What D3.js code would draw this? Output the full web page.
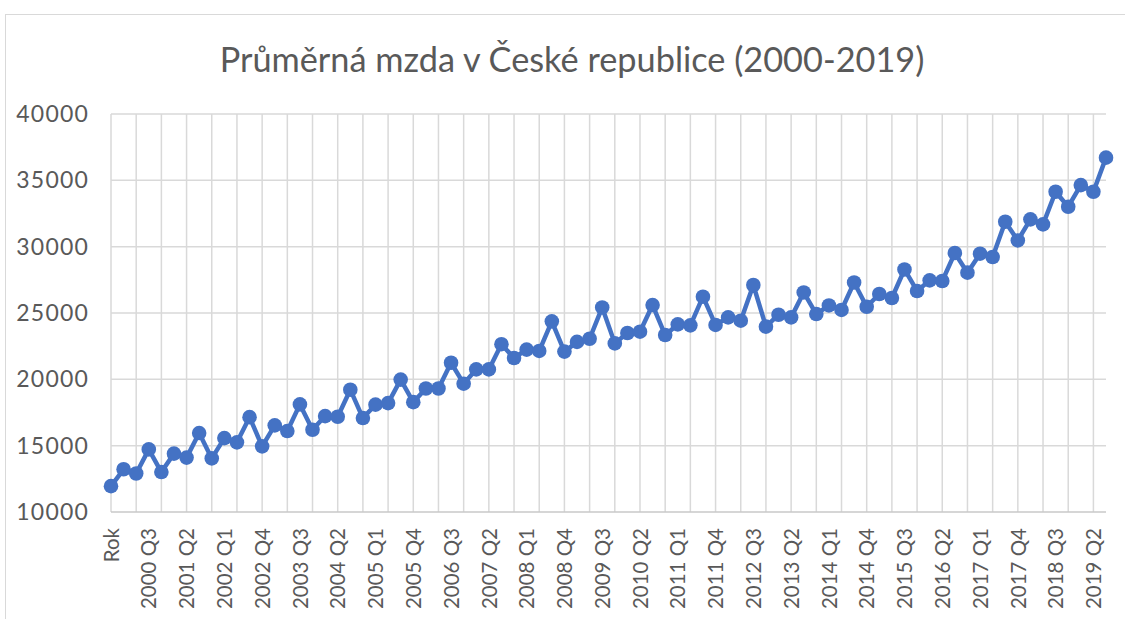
<!DOCTYPE html>
<html>
<head>
<meta charset="utf-8">
<script src="https://cdn.jsdelivr.net/npm/d3@7"></script>
<style>
  html, body { margin: 0; padding: 0; background: #fff; }
  svg { display: block; }
</style>
</head>
<body>
<svg id="chart" width="1125" height="619"></svg>
<script>
const title = "Průměrná mzda v České republice (2000-2019)";

const categories = [
  "Rok",
  "2000 Q1","2000 Q2","2000 Q3","2000 Q4",
  "2001 Q1","2001 Q2","2001 Q3","2001 Q4",
  "2002 Q1","2002 Q2","2002 Q3","2002 Q4",
  "2003 Q1","2003 Q2","2003 Q3","2003 Q4",
  "2004 Q1","2004 Q2","2004 Q3","2004 Q4",
  "2005 Q1","2005 Q2","2005 Q3","2005 Q4",
  "2006 Q1","2006 Q2","2006 Q3","2006 Q4",
  "2007 Q1","2007 Q2","2007 Q3","2007 Q4",
  "2008 Q1","2008 Q2","2008 Q3","2008 Q4",
  "2009 Q1","2009 Q2","2009 Q3","2009 Q4",
  "2010 Q1","2010 Q2","2010 Q3","2010 Q4",
  "2011 Q1","2011 Q2","2011 Q3","2011 Q4",
  "2012 Q1","2012 Q2","2012 Q3","2012 Q4",
  "2013 Q1","2013 Q2","2013 Q3","2013 Q4",
  "2014 Q1","2014 Q2","2014 Q3","2014 Q4",
  "2015 Q1","2015 Q2","2015 Q3","2015 Q4",
  "2016 Q1","2016 Q2","2016 Q3","2016 Q4",
  "2017 Q1","2017 Q2","2017 Q3","2017 Q4",
  "2018 Q1","2018 Q2","2018 Q3","2018 Q4",
  "2019 Q1","2019 Q2","2019 Q3"
];

const wages = [
  11950,
  13220, 12900, 14720, 13010,
  14400, 14100, 15950, 14040,
  15570, 15250, 17150, 14950,
  16530, 16100, 18110, 16200,
  17230, 17180, 19220, 17080,
  18090, 18210, 19980, 18280,
  19310, 19310, 21250, 19670,
  20750, 20750, 22650, 21610,
  22240, 22140, 24370, 22090,
  22820, 23060, 25420, 22710,
  23490, 23590, 25600, 23340,
  24140, 24070, 26230, 24100,
  24670, 24420, 27110, 23970,
  24870, 24670, 26550, 24920,
  25570, 25230, 27300, 25470,
  26430, 26130, 28280, 26660,
  27460, 27410, 29520, 28040,
  29470, 29220, 31880, 30470,
  32060, 31680, 34140, 33010,
  34640, 34140, 36710
];

const yTicks = [10000, 15000, 20000, 25000, 30000, 35000, 40000];
const xTickLabels = categories.filter((d, i) => i % 3 === 0);
const xGridCats = categories.filter((d, i) => i % 2 === 0);

const data = categories.map((c, i) => ({ cat: c, value: wages[i] }));

const svg = d3.select("#chart");
const FONT = "Lato, 'Liberation Sans', sans-serif";
const TEXT = "#595959";
const GRID = "#d9d9d9";
const BLUE = "#4472C4";

// chart area border
svg.append("rect")
  .attr("x", 5.5).attr("y", 14.5)
  .attr("width", 1140).attr("height", 640)
  .attr("fill", "#fff").attr("stroke", "#d9d9d9").attr("stroke-width", 1);

const x = d3.scalePoint().domain(categories).range([111, 1106]);
const y = d3.scaleLinear().domain([10000, 40000]).range([512, 114]);

// horizontal gridlines
svg.append("g")
  .selectAll("line").data(yTicks.slice(1)).join("line")
  .attr("x1", 111).attr("x2", 1106)
  .attr("y1", d => y(d)).attr("y2", d => y(d))
  .attr("stroke", GRID).attr("stroke-width", 1.5);

// vertical gridlines
svg.append("g")
  .selectAll("line").data(xGridCats).join("line")
  .attr("x1", d => x(d)).attr("x2", d => x(d))
  .attr("y1", y(40000)).attr("y2", y(10000))
  .attr("stroke", GRID).attr("stroke-width", 1.5);

// x axis line
svg.append("line")
  .attr("x1", 111).attr("x2", 1106)
  .attr("y1", y(10000)).attr("y2", y(10000))
  .attr("stroke", "#c8c8c8").attr("stroke-width", 1.5);

// y axis labels
const yAxis = svg.append("g")
  .attr("transform", `translate(${x(categories[0])},0)`)
  .call(d3.axisLeft(y).tickValues(yTicks).tickSize(0).tickPadding(22).tickFormat(d3.format("d")));
yAxis.select(".domain").remove();
yAxis.selectAll("text")
  .attr("fill", TEXT).style("font-family", FONT)
  .style("font-size", "23px").style("letter-spacing", "1.2px");

// x axis labels
const xAxis = svg.append("g")
  .attr("transform", `translate(0,${y(10000)})`)
  .call(d3.axisBottom(x).tickValues(xTickLabels).tickSize(0));
xAxis.select(".domain").remove();
xAxis.selectAll("text")
  .attr("transform", "rotate(-90)")
  .attr("x", -16).attr("y", 0).attr("dy", "0.35em")
  .attr("text-anchor", "end")
  .attr("fill", TEXT).style("font-family", FONT).style("font-size", "20.5px");

// line
svg.append("path")
  .datum(data)
  .attr("fill", "none")
  .attr("stroke", BLUE)
  .attr("stroke-width", 4.5)
  .attr("stroke-linejoin", "round")
  .attr("d", d3.line().x(d => x(d.cat)).y(d => y(d.value)));

// markers
svg.append("g")
  .selectAll("circle").data(data).join("circle")
  .attr("cx", d => x(d.cat)).attr("cy", d => y(d.value))
  .attr("r", 7.3)
  .attr("fill", BLUE);

// title
const t = svg.append("text")
  .attr("x", 572).attr("y", 72)
  .attr("text-anchor", "middle")
  .attr("fill", TEXT)
  .style("font-family", FONT)
  .style("font-size", "32px")
  .text(title);
const tw = t.node().getComputedTextLength();
t.style("font-size", (32 * 705 / tw) + "px");
</script>
</body>
</html>
